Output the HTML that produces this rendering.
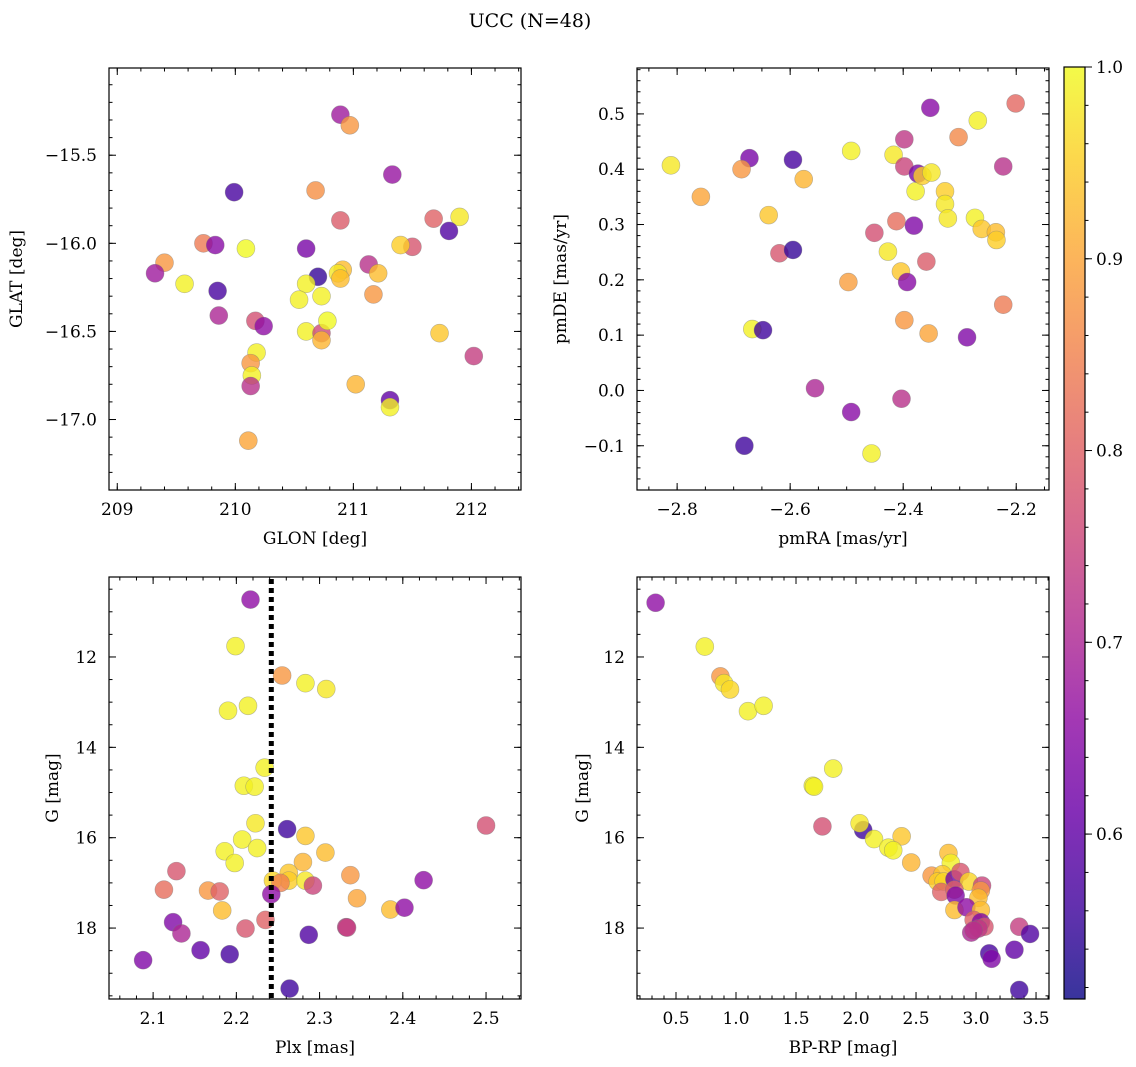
<!DOCTYPE html>
<html><head><meta charset="utf-8"><style>
html,body{margin:0;padding:0;background:#fff;}
svg{display:block;font-family:"DejaVu Serif","Liberation Serif",serif;}
</style></head><body>
<svg id="fig" width="1136" height="1067" viewBox="0 0 1136 1067" xmlns="http://www.w3.org/2000/svg">
<defs>
<linearGradient id="plasma" x1="0" y1="1" x2="0" y2="0"></linearGradient>
</defs>
<text x="530" y="27" font-size="19" text-anchor="middle">UCC (N=48)</text>
</svg>
<script>
// ---- Panel 1: GLON vs GLAT ----
const glon = [210.89,210.97,211.33,209.99,210.68,210.89,211.68,211.90,211.81,211.50,211.40,209.73,209.83,210.09,210.60,209.40,209.32,211.13,209.57,210.70,210.91,210.87,210.89,211.21,209.85,210.60,210.54,210.73,211.17,209.86,210.17,210.24,210.60,210.73,210.73,210.78,211.73,212.02,210.18,210.13,210.14,210.13,211.02,211.31,211.31,210.11];
const glat = [-15.27,-15.33,-15.61,-15.71,-15.70,-15.87,-15.86,-15.85,-15.93,-16.02,-16.01,-16.0,-16.01,-16.03,-16.03,-16.11,-16.17,-16.12,-16.23,-16.19,-16.15,-16.17,-16.2,-16.17,-16.27,-16.23,-16.32,-16.3,-16.29,-16.41,-16.44,-16.47,-16.5,-16.51,-16.55,-16.44,-16.51,-16.64,-16.62,-16.68,-16.75,-16.81,-16.8,-16.89,-16.93,-17.12];
const prob1 = [0.68,0.88,0.67,0.57,0.87,0.79,0.8,0.98,0.58,0.78,0.95,0.84,0.65,1.0,0.63,0.88,0.68,0.72,0.99,0.55,0.93,0.98,0.93,0.93,0.57,0.99,0.99,0.99,0.88,0.7,0.77,0.66,0.99,0.76,0.92,1.0,0.94,0.74,0.99,0.88,0.99,0.72,0.92,0.6,0.99,0.9];
// ---- Panel 2: pmRA vs pmDE ----
const pmra = [-2.811,-2.758,-2.672,-2.686,-2.595,-2.576,-2.638,-2.619,-2.595,-2.667,-2.648,-2.492,-2.497,-2.556,-2.492,-2.681,-2.456,-2.451,-2.427,-2.412,-2.417,-2.398,-2.398,-2.404,-2.393,-2.398,-2.403,-2.381,-2.378,-2.374,-2.366,-2.350,-2.359,-2.355,-2.352,-2.326,-2.326,-2.321,-2.302,-2.287,-2.268,-2.273,-2.261,-2.236,-2.235,-2.223,-2.223,-2.201];
const pmde = [0.407,0.35,0.42,0.40,0.417,0.382,0.317,0.248,0.254,0.111,0.109,0.433,0.196,0.004,-0.039,-0.1,-0.114,0.285,0.251,0.306,0.426,0.454,0.405,0.215,0.196,0.127,-0.015,0.298,0.36,0.392,0.388,0.394,0.233,0.103,0.511,0.36,0.337,0.311,0.458,0.096,0.488,0.312,0.292,0.286,0.272,0.405,0.155,0.519];
const prob2 = [0.98,0.9,0.63,0.88,0.57,0.92,0.94,0.78,0.55,0.99,0.56,0.99,0.89,0.7,0.65,0.56,0.99,0.77,0.98,0.82,0.98,0.73,0.75,0.94,0.65,0.88,0.72,0.64,0.99,0.63,0.95,0.98,0.79,0.9,0.65,0.95,0.98,0.98,0.86,0.64,0.99,0.99,0.94,0.93,0.95,0.72,0.84,0.81];
// ---- Panel 3: Plx vs G ----
const plx = [2.217,2.199,2.255,2.283,2.308,2.190,2.214,2.234,2.209,2.222,2.500,2.261,2.283,2.223,2.207,2.307,2.186,2.198,2.280,2.225,2.128,2.113,2.166,2.180,2.263,2.263,2.244,2.253,2.283,2.292,2.337,2.425,2.242,2.345,2.385,2.402,2.183,2.124,2.235,2.134,2.211,2.332,2.287,2.157,2.192,2.088,2.264,2.333];
const gmag3 = [10.73,11.76,12.41,12.58,12.71,13.19,13.08,14.45,14.85,14.87,15.73,15.81,15.96,15.68,16.04,16.33,16.3,16.56,16.54,16.23,16.74,17.15,17.17,17.19,16.78,16.95,16.95,17.0,16.95,17.06,16.83,16.94,17.25,17.34,17.59,17.55,17.61,17.87,17.82,18.12,18.01,17.98,18.15,18.49,18.58,18.71,19.34,17.99];
const prob3 = [0.66,0.99,0.88,0.99,0.98,0.99,0.99,0.99,0.99,0.99,0.77,0.56,0.94,0.98,0.99,0.93,0.99,0.99,0.92,0.99,0.78,0.82,0.88,0.8,0.94,0.95,0.96,0.85,0.98,0.75,0.88,0.66,0.66,0.9,0.93,0.66,0.93,0.64,0.8,0.7,0.78,0.73,0.58,0.6,0.57,0.64,0.56,0.74];
const plxLine = [2.242];
// ---- Panel 4: BP-RP vs G ----
const bprp = [0.33,0.74,0.87,0.9,0.95,1.1,1.23,1.81,1.64,1.65,1.72,2.06,2.03,2.15,2.38,2.27,2.31,2.46,2.77,2.79,2.63,2.72,2.68,2.73,2.82,2.87,2.94,2.71,2.82,2.83,3.05,3.04,3.02,2.82,2.92,3.04,2.98,3.04,3.07,2.96,3.02,3.11,3.13,3.36,3.45,3.32,3.36,2.98];
const gmag4 = [10.8,11.77,12.43,12.58,12.72,13.2,13.08,14.47,14.85,14.87,15.75,15.83,15.68,16.03,15.97,16.22,16.28,16.55,16.34,16.56,16.84,16.81,16.97,16.97,16.92,16.76,16.97,17.2,17.15,17.28,17.06,17.17,17.33,17.6,17.54,17.6,17.82,17.87,17.97,18.1,18.01,18.56,18.68,17.97,18.13,18.48,19.37,18.05];
const prob4 = [0.66,0.99,0.88,0.98,0.96,0.99,0.99,0.99,0.99,0.99,0.77,0.56,0.98,0.99,0.94,0.99,0.99,0.92,0.93,0.99,0.88,0.94,0.95,0.96,0.62,0.78,0.96,0.8,0.8,0.64,0.75,0.88,0.93,0.93,0.66,0.93,0.8,0.64,0.78,0.7,0.73,0.57,0.64,0.74,0.58,0.6,0.56,0.72];
// ---- colorbar ----
const cbTicks = [0.6,0.7,0.8,0.9,1.0];
const cbMin = 0.514, cbMax = 1.0;

const NS = "http://www.w3.org/2000/svg";
const svg = document.getElementById('fig');
const stops = [[0,'#0d0887'],[0.1,'#41049d'],[0.2,'#6a00a8'],[0.3,'#8f0da4'],[0.4,'#b12a90'],[0.5,'#cc4778'],[0.6,'#e16462'],[0.7,'#f2844b'],[0.8,'#fca636'],[0.9,'#fcce25'],[1,'#f0f921']];
function hex(h){return [parseInt(h.substr(1,2),16),parseInt(h.substr(3,2),16),parseInt(h.substr(5,2),16)];}
function plasma(t){
  t=Math.max(0,Math.min(1,t));
  for(let i=0;i<stops.length-1;i++){
    if(t<=stops[i+1][0]){
      const f=(t-stops[i][0])/(stops[i+1][0]-stops[i][0]);
      const a=hex(stops[i][1]),b=hex(stops[i+1][1]);
      return 'rgb('+a.map((v,k)=>Math.round(v+(b[k]-v)*f)).join(',')+')';
    }
  }
  return stops[stops.length-1][1];
}
function mk(tag,attrs,parent){const e=document.createElementNS(NS,tag);for(const k in attrs)e.setAttribute(k,attrs[k]);(parent||svg).appendChild(e);return e;}
function fmt(v,d){const s=v.toFixed(d);return s.replace('-','\u2212');}

function panel(p){
  const g=mk('g',{});
  
  
  const sx=v=>p.x0+(v-p.xmin)/(p.xmax-p.xmin)*(p.x1-p.x0);
  const sy=v=>p.invert ? p.y0+(v-p.ymin)/(p.ymax-p.ymin)*(p.y1-p.y0) : p.y1-(v-p.ymin)/(p.ymax-p.ymin)*(p.y1-p.y0);
  const tg=mk('g',{stroke:'#000','stroke-width':1},g);
  function ticksX(step,len,labels,dec){
    const s=Math.ceil(p.xmin/step-1e-9);
    for(let k=s;k*step<=p.xmax+1e-9;k++){
      const v=k*step, x=sx(v);
      mk('line',{x1:x,y1:p.y1,x2:x,y2:p.y1-len},tg);
      mk('line',{x1:x,y1:p.y0,x2:x,y2:p.y0+len},tg);
      if(labels){
        const t=mk('text',{x:x,y:p.y1+25,'font-size':17,'text-anchor':'middle',stroke:'none'},g);
        t.textContent=fmt(v,dec);
        
        
      }
    }
  }
  function ticksY(step,len,labels,dec){
    const lo=Math.min(p.ymin,p.ymax),hi=Math.max(p.ymin,p.ymax);
    const s=Math.ceil(lo/step-1e-9);
    for(let k=s;k*step<=hi+1e-9;k++){
      const v=k*step, y=sy(v);
      mk('line',{x1:p.x0,y1:y,x2:p.x0+len,y2:y},tg);
      mk('line',{x1:p.x1,y1:y,x2:p.x1-len,y2:y},tg);
      if(labels){
        const t=mk('text',{x:p.x0-12,y:y+6,'font-size':17,'text-anchor':'end',stroke:'none'},g);
        t.textContent=fmt(v,dec);
        
        
      }
    }
  }
  ticksX(p.xminor,3.5,false);ticksX(p.xmajor,7,true,p.xdec);
  ticksY(p.yminor,3.5,false);ticksY(p.ymajor,7,true,p.ydec);
  const pg=mk('g',{},g);
  
  
  for(let i=0;i<p.xs.length;i++){
    const c=mk('circle',{cx:sx(p.xs[i]),cy:sy(p.ys[i]),r:9,fill:plasma((p.cs[i]-cbMin)/(cbMax-cbMin)),'fill-opacity':0.8,stroke:'#777','stroke-opacity':0.5,'stroke-width':0.6},pg);
    
    
  }
  if(p.vline){
    const l=mk('line',{x1:sx(p.vline[0]),x2:sx(p.vline[0]),y1:p.y0+2,y2:p.y1,stroke:'#000','stroke-width':5,'stroke-dasharray':'5 4'},g);
    
    
  }
  const fr=mk('rect',{x:p.x0,y:p.y0,width:p.x1-p.x0,height:p.y1-p.y0,fill:'none',stroke:'#000','stroke-width':1.2},g);
  
  
  const xl=mk('text',{x:(p.x0+p.x1)/2,y:p.y1+54,'font-size':17,'text-anchor':'middle'},g);
  xl.textContent=p.xlabel;
  
  
  const yc=(p.y0+p.y1)/2;
  const yl=mk('text',{x:p.ylx,y:yc,'font-size':17,'text-anchor':'middle',transform:'rotate(-90 '+p.ylx+' '+yc+')'},g);
  yl.textContent=p.ylabel;
  
  
}
panel({name:'glon-glat-panel',x0:109,x1:521,y0:68,y1:490,xmin:208.93,xmax:212.42,ymin:-17.40,ymax:-15.005,xmajor:1,xminor:0.2,ymajor:0.5,yminor:0.1,xdec:0,ydec:1,xs:glon,ys:glat,cs:prob1,xlabel:'GLON [deg]',ylabel:'GLAT [deg]',ylx:22});
panel({name:'proper-motion-panel',x0:637,x1:1049,y0:68,y1:490,xmin:-2.871,xmax:-2.142,ymin:-0.180,ymax:0.583,xmajor:0.2,xminor:0.05,ymajor:0.1,yminor:0.02,xdec:1,ydec:1,xs:pmra,ys:pmde,cs:prob2,xlabel:'pmRA [mas/yr]',ylabel:'pmDE [mas/yr]',ylx:566});
panel({name:'parallax-magnitude-panel',x0:109,x1:521,y0:577,y1:999,xmin:2.047,xmax:2.542,ymin:10.23,ymax:19.57,invert:true,xmajor:0.1,xminor:0.02,ymajor:2,yminor:0.5,xdec:1,ydec:0,xs:plx,ys:gmag3,cs:prob3,vline:plxLine,xlabel:'Plx [mas]',ylabel:'G [mag]',ylx:58});
panel({name:'color-magnitude-panel',x0:637,x1:1049,y0:577,y1:999,xmin:0.175,xmax:3.608,ymin:10.23,ymax:19.57,invert:true,xmajor:0.5,xminor:0.1,ymajor:2,yminor:0.5,xdec:1,ydec:0,xs:bprp,ys:gmag4,cs:prob4,xlabel:'BP-RP [mag]',ylabel:'G [mag]',ylx:588});

const grad=document.getElementById('plasma');
for(const s of stops){mk('stop',{offset:s[0],'stop-color':s[1],'stop-opacity':0.82},grad);}
const cb=mk('g',{});


const cx0=1064,cx1=1085,cy0=67,cy1=999;
mk('rect',{x:cx0,y:cy0,width:cx1-cx0,height:cy1-cy0,fill:'url(#plasma)',stroke:'#000','stroke-width':1.2},cb);
const cby=v=>cy1-(v-cbMin)/(cbMax-cbMin)*(cy1-cy0);
for(let v=0.52;v<=1.0001;v+=0.02){mk('line',{x1:cx1,x2:cx1+3.5,y1:cby(v),y2:cby(v),stroke:'#000'},cb);}
for(const v of cbTicks){
  mk('line',{x1:cx1,x2:cx1+7,y1:cby(v),y2:cby(v),stroke:'#000'},cb);
  const t=mk('text',{x:cx1+11,y:cby(v)+6,'font-size':17},cb);
  t.textContent=v.toFixed(1);
  
  
}
</script>
</body></html>
